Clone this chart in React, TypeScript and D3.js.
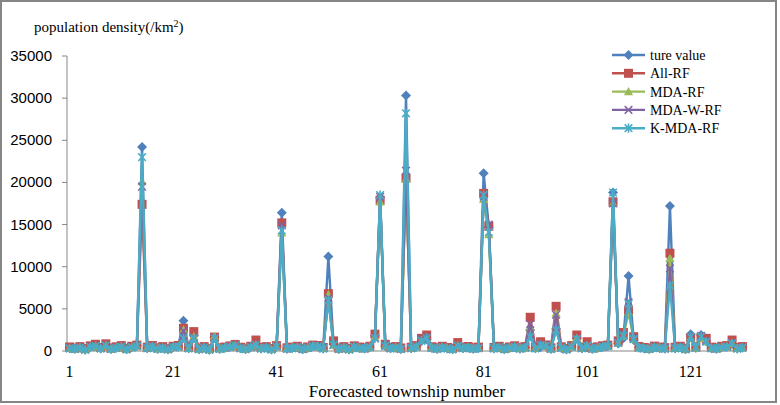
import React from 'react';
import * as d3 from 'd3';

// township numbers 1..131
const townships = d3.range(1, 132);

const xTickLabels = [1, 21, 41, 61, 81, 101, 121];
const yTicks = [0, 5000, 10000, 15000, 20000, 25000, 30000, 35000];

const tureValue = [
  350, 280, 420, 150, 500, 620, 300, 710, 240, 380, 520, 200, 450, 610, 24200, 330, 580, 260, 400, 190,
  470, 540, 3600, 320, 1800, 210, 430, 150, 1600, 260, 380, 520, 700, 340, 230, 480, 650, 300, 420, 180,
  560, 16400, 280, 350, 470, 220, 390, 610, 540, 300, 11200, 800, 250, 430, 180, 520, 360, 290, 470, 1800,
  18200, 600, 320, 410, 250, 30300, 340, 520, 1200, 1400, 380, 260, 450, 310, 200, 570, 340, 420, 280, 350,
  21100, 14700, 300, 460, 220, 380, 510, 290, 410, 2500, 330, 480, 620, 260, 2600, 390, 180, 520, 1500, 340,
  450, 270, 380, 510, 600, 18800, 900, 1500, 8900, 1300, 420, 310, 250, 480, 360, 290, 17200, 330, 450, 210,
  2000, 380, 1900, 1200, 340, 280, 450, 520, 900, 300, 410,
];

const allRF = [
  480, 350, 520, 300, 610, 800, 420, 850, 360, 500, 640, 330, 560, 700, 17400, 450, 650, 380, 520, 300,
  560, 650, 2700, 450, 2300, 330, 520, 280, 1650, 380, 470, 600, 780, 450, 350, 560, 1300, 420, 520, 300,
  640, 15200, 380, 460, 560, 330, 480, 700, 650, 420, 6800, 1200, 360, 520, 300, 610, 470, 380, 560, 2000,
  17900, 800, 430, 520, 360, 20500, 450, 640, 1500, 1900, 500, 380, 560, 420, 330, 1000, 450, 530, 380, 460,
  18700, 14800, 420, 560, 330, 480, 620, 400, 520, 4000, 450, 1100, 720, 380, 5300, 500, 300, 640, 1900, 450,
  1100, 380, 490, 620, 700, 17700, 1200, 2200, 4800, 1700, 530, 420, 360, 580, 470, 400, 11600, 440, 560, 330,
  1600, 500, 1600, 1500, 460, 380, 560, 640, 1300, 420, 520,
];

const mdaRF = [
  300, 240, 380, 180, 460, 560, 320, 640, 260, 350, 480, 220, 420, 560, 20100, 360, 520, 280, 380, 210,
  440, 500, 2500, 340, 1700, 230, 400, 190, 1750, 280, 360, 480, 650, 330, 250, 450, 700, 310, 400, 200,
  520, 14000, 300, 360, 440, 240, 380, 580, 520, 310, 6700, 700, 270, 410, 200, 490, 350, 300, 450, 1600,
  17700, 600, 330, 400, 270, 20400, 350, 500, 1300, 1600, 390, 280, 430, 320, 220, 600, 350, 400, 290, 360,
  18000, 13800, 320, 440, 240, 370, 490, 300, 400, 2900, 340, 700, 600, 270, 4500, 380, 200, 500, 1500, 350,
  600, 280, 370, 490, 580, 17500, 950, 1800, 4600, 1400, 400, 320, 260, 460, 350, 300, 11000, 340, 440, 230,
  1500, 380, 1500, 1100, 350, 290, 440, 500, 900, 310, 400,
];

const mdaWRF = [
  320, 260, 400, 170, 480, 590, 310, 670, 250, 370, 500, 210, 430, 590, 19500, 350, 540, 270, 390, 200,
  460, 520, 2400, 330, 1600, 220, 420, 170, 1600, 270, 370, 500, 670, 340, 240, 460, 720, 300, 410, 190,
  540, 14900, 290, 350, 450, 230, 390, 600, 530, 300, 6300, 750, 260, 420, 190, 500, 360, 290, 460, 1500,
  18300, 610, 320, 410, 260, 21400, 340, 510, 1400, 1700, 380, 270, 440, 310, 210, 620, 340, 410, 280, 350,
  18300, 15000, 310, 450, 230, 380, 500, 290, 410, 3200, 330, 750, 610, 260, 4300, 390, 190, 510, 1400, 340,
  650, 270, 380, 500, 590, 17500, 1000, 1900, 5800, 1500, 410, 310, 250, 470, 360, 290, 9800, 330, 450, 220,
  1600, 400, 1800, 1200, 340, 280, 450, 510, 950, 300, 410,
];

const kMdaRF = [
  310, 250, 390, 160, 470, 580, 300, 650, 240, 360, 490, 200, 420, 580, 23000, 340, 530, 260, 380, 190,
  450, 510, 1500, 320, 1500, 210, 410, 160, 1500, 260, 360, 490, 660, 330, 230, 450, 700, 290, 400, 180,
  530, 14300, 280, 340, 440, 220, 380, 590, 520, 290, 6000, 720, 250, 410, 180, 490, 350, 280, 450, 1500,
  18500, 600, 310, 400, 250, 28200, 330, 500, 1200, 1500, 370, 260, 430, 300, 200, 600, 330, 400, 270, 340,
  18500, 14100, 300, 440, 220, 370, 490, 280, 400, 1700, 320, 700, 600, 250, 2500, 380, 180, 500, 1400, 330,
  600, 260, 370, 490, 580, 18800, 950, 1800, 5600, 1400, 400, 300, 240, 460, 350, 280, 7800, 320, 440, 210,
  1700, 390, 1700, 1100, 330, 270, 440, 500, 900, 290, 400,
];

const seriesNames = ['ture value', 'All-RF', 'MDA-RF', 'MDA-W-RF', 'K-MDA-RF'];
const seriesValues = [tureValue, allRF, mdaRF, mdaWRF, kMdaRF];
const seriesColors = ['#4F81BD', '#C0504D', '#9BBB59', '#8064A2', '#4BACC6'];
const markerKinds = ['diamond', 'square', 'triangle', 'x', 'star'];

const W = 780;
const H = 405;
const plot = { left: 67, right: 745, top: 56, bottom: 351 };

const serif = '"Liberation Serif", "Times New Roman", serif';
const sans = '"Liberation Sans", Arial, sans-serif';

const Marker = ({ kind, x, y, color }) => {
  if (kind === 'diamond') {
    const r = 5;
    return <path d={`M${x},${y - r}L${x + r},${y}L${x},${y + r}L${x - r},${y}Z`} fill={color} />;
  }
  if (kind === 'square') {
    return <rect x={x - 4.5} y={y - 4.5} width={9} height={9} fill={color} />;
  }
  if (kind === 'triangle') {
    return <path d={`M${x},${y - 4.6}L${x + 4.6},${y + 3.6}L${x - 4.6},${y + 3.6}Z`} fill={color} />;
  }
  if (kind === 'x') {
    const r = 3.8;
    return (
      <path d={`M${x - r},${y - r}L${x + r},${y + r}M${x - r},${y + r}L${x + r},${y - r}`}
        stroke={color} strokeWidth={1.6} fill="none" />
    );
  }
  const r = 3.8;
  return (
    <path d={`M${x - r},${y - r}L${x + r},${y + r}M${x - r},${y + r}L${x + r},${y - r}M${x},${y - 4.6}L${x},${y + 4.6}`}
      stroke={color} strokeWidth={1.6} fill="none" />
  );
};

const App = () => {
  const x = d3.scaleLinear().domain([0.5, townships.length + 0.5]).range([plot.left, plot.right]);
  const y = d3.scaleLinear().domain([0, 35000]).range([plot.bottom, plot.top]);

  const line = d3.line<number>()
    .x((d, i) => x(townships[i]))
    .y(d => y(d));

  const legendX = 612;
  const legendY = 55;
  const legendStep = 18.3;

  return (
    <>
      <style>{`body { margin: 0; }`}</style>
      <svg width={W} height={H} style={{ display: 'block', background: '#fff' }}>
        <rect x={1} y={1} width={775} height={401} fill="#fff" stroke="#868686" strokeWidth={2} />

        {/* y axis */}
        <line x1={plot.left} x2={plot.left} y1={plot.top} y2={plot.bottom} stroke="#868686" strokeWidth={1} />
        {yTicks.map(t => (
          <g key={t}>
            <line x1={plot.left - 5} x2={plot.left} y1={y(t)} y2={y(t)} stroke="#868686" />
            <text x={52} y={y(t) + 5} textAnchor="end" fontFamily={sans} fontSize={15} fill="#000">{t}</text>
          </g>
        ))}
        <text x={34} y={32} fontFamily={serif} fontSize={15} fill="#000">
          population density(/km<tspan dy={-5} fontSize={10}>2</tspan><tspan dy={5}>)</tspan>
        </text>

        {/* x axis */}
        <line x1={plot.left} x2={plot.right} y1={plot.bottom} y2={plot.bottom} stroke="#868686" strokeWidth={1} />
        {xTickLabels.map(t => (
          <text key={t} x={x(t)} y={377} textAnchor="middle" fontFamily={serif} fontSize={16} fill="#000">{t}</text>
        ))}
        <text x={407} y={397} textAnchor="middle" fontFamily={serif} fontSize={17} fill="#000">
          Forecasted township number
        </text>

        {/* series */}
        {seriesValues.map((vals, s) => (
          <g key={seriesNames[s]}>
            <path d={line(vals) || ''} fill="none" stroke={seriesColors[s]} strokeWidth={2.4} strokeLinejoin="round" />
            {vals.map((v, i) => (
              <Marker key={i} kind={markerKinds[s]} x={x(townships[i])} y={y(v)} color={seriesColors[s]} />
            ))}
          </g>
        ))}

        {/* legend */}
        {seriesNames.map((name, s) => {
          const ly = legendY + s * legendStep;
          return (
            <g key={name}>
              <line x1={legendX} x2={legendX + 33} y1={ly} y2={ly} stroke={seriesColors[s]} strokeWidth={2.4} />
              <Marker kind={markerKinds[s]} x={legendX + 16.5} y={ly} color={seriesColors[s]} />
              <text x={legendX + 38} y={ly + 5} fontFamily={serif} fontSize={14} fill="#000">{name}</text>
            </g>
          );
        })}
      </svg>
    </>
  );
};

export default App;
